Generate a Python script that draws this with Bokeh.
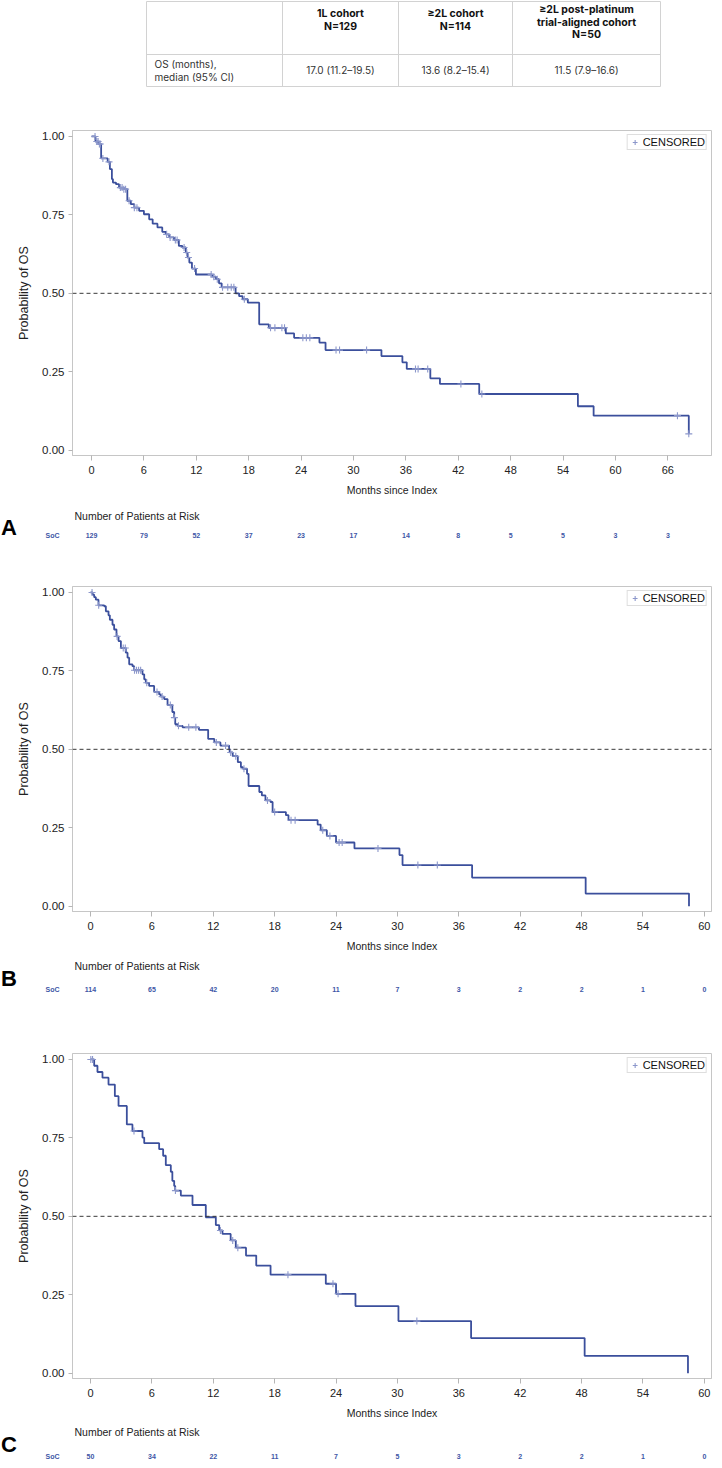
import numpy as np
from bokeh.plotting import figure
from bokeh.layouts import column
from bokeh.models import Range1d, Span, Legend, LegendItem, FixedTicker, NumeralTickFormatter
from bokeh.core.properties import value
from bokeh.embed import file_html
from bokeh.resources import INLINE

# ---------------- data ----------------
header_lines = [["1L cohort", "N=129"],
                ["≥2L cohort", "N=114"],
                ["≥2L post-platinum", "trial-aligned cohort", "N=50"]]
row_label = ["OS (months),", "median (95% CI)"]
os_median = ["17.0 (11.2–19.5)", "13.6 (8.2–15.4)", "11.5 (7.9–16.6)"]

# Panel A: 1L cohort
a_times = [0.45, 0.8, 1.1, 1.85, 2.1, 2.33, 2.45, 2.8, 3.15, 3.7, 4.1, 4.5, 4.9, 5.45, 6.0, 6.6,
           7.0, 7.55, 8.1, 8.5, 8.9, 9.45, 10.0, 10.4, 10.8, 11.0, 11.2, 11.5, 11.95, 13.85, 14.25,
           14.6, 14.9, 16.5, 16.9, 17.3, 17.9, 19.2, 20.3, 22.25, 23.2, 26.1, 26.8, 33.2, 35.6,
           36.1, 38.8, 39.9, 44.4, 55.7, 57.5, 68.4]
a_surv = [0.984, 0.976, 0.93, 0.919, 0.896, 0.864, 0.853, 0.848, 0.837, 0.832, 0.795, 0.784,
          0.773, 0.763, 0.752, 0.736, 0.722, 0.71, 0.696, 0.688, 0.678, 0.67, 0.651, 0.646, 0.63,
          0.614, 0.598, 0.579, 0.56, 0.553, 0.545, 0.532, 0.519, 0.50, 0.491, 0.481, 0.47, 0.401,
          0.39, 0.372, 0.358, 0.343, 0.319, 0.30, 0.28, 0.259, 0.229, 0.211, 0.179, 0.14, 0.11,
          0.052]
a_censor = [0.4, 0.6, 0.75, 0.9, 1.0, 1.3, 2.0, 3.3, 3.5, 3.7, 3.9, 4.3, 4.9, 5.2, 8.6, 9.0, 9.6,
            9.8, 10.6, 10.9, 11.1, 11.8, 13.7, 14.0, 14.4, 15.0, 15.6, 16.0, 16.3, 17.5, 20.5,
            21.0, 21.8, 22.1, 24.2, 24.6, 25.0, 28.0, 28.4, 31.5, 37.1, 37.4, 38.5, 42.3, 44.7,
            67.1, 68.4]
a_ticks = [0, 6, 12, 18, 24, 30, 36, 42, 48, 54, 60, 66]
a_risk = [129, 79, 52, 37, 23, 17, 14, 8, 5, 5, 3, 3]

# Panel B: >=2L cohort
b_times = [0.2, 0.36, 0.52, 0.78, 1.34, 1.5, 1.76, 1.89, 2.15, 2.31, 2.54, 2.74, 2.97, 3.45, 3.62,
           3.78, 4.1, 4.27, 5.08, 5.25, 5.41, 5.73, 6.22, 6.71, 6.87, 7.2, 7.53, 8.0, 8.18, 8.28,
           8.5, 9.0, 10.6, 11.5, 12.1, 12.7, 13.55, 13.6, 13.9, 14.4, 14.7, 14.9, 15.3, 15.45,
           16.5, 16.75, 17.1, 17.6, 17.8, 19.1, 19.35, 22.2, 22.5, 23.1, 24.0, 25.8, 30.2, 30.5,
           37.3, 48.4, 58.5]
b_surv = [0.993, 0.985, 0.977, 0.959, 0.956, 0.94, 0.927, 0.913, 0.897, 0.882, 0.86, 0.845, 0.823,
          0.808, 0.792, 0.771, 0.765, 0.752, 0.739, 0.723, 0.712, 0.702, 0.683, 0.675, 0.668,
          0.66, 0.641, 0.619, 0.601, 0.58, 0.575, 0.57, 0.562, 0.533, 0.522, 0.512, 0.501, 0.49,
          0.478, 0.459, 0.443, 0.438, 0.422, 0.383, 0.364, 0.353, 0.337, 0.332, 0.30, 0.29, 0.274,
          0.26, 0.242, 0.224, 0.203, 0.184, 0.163, 0.131, 0.091, 0.04, 0.0]
b_censor = [0.15, 0.8, 2.6, 3.2, 3.4, 4.3, 4.5, 4.7, 4.9, 5.5, 6.5, 7.0, 7.8, 8.2, 8.6, 9.6, 10.3,
            12.3, 13.2, 13.7, 14.2, 15.0, 17.3, 18.0, 19.6, 20.0, 22.7, 23.4, 24.3, 24.6, 28.1,
            32.0, 33.9]
b_ticks = [0, 6, 12, 18, 24, 30, 36, 42, 48, 54, 60]
b_risk = [114, 65, 42, 20, 11, 7, 3, 2, 2, 1, 0]

# Panel C: >=2L post-platinum trial-aligned cohort
c_times = [0.36, 0.68, 1.17, 1.76, 2.38, 2.74, 3.55, 4.1, 5.08, 5.25, 6.71, 7.1, 7.36, 7.85, 8.0,
           8.18, 8.28, 8.83, 9.97, 11.27, 12.25, 12.58, 12.9, 13.7, 14.2, 15.2, 16.2, 17.6, 23.0,
           24.0, 25.9, 30.1, 37.2, 48.3, 58.4]
c_surv = [0.98, 0.96, 0.942, 0.92, 0.883, 0.852, 0.793, 0.772, 0.751, 0.733, 0.714, 0.693, 0.663,
          0.642, 0.613, 0.597, 0.582, 0.566, 0.536, 0.497, 0.472, 0.455, 0.444, 0.423, 0.40,
          0.375, 0.343, 0.314, 0.285, 0.253, 0.214, 0.166, 0.112, 0.055, 0.0]
c_censor = [0.03, 0.2, 4.25, 8.3, 12.7, 13.9, 14.4, 19.3, 23.7, 24.2, 31.9]
c_ticks = [0, 6, 12, 18, 24, 30, 36, 42, 48, 54, 60]
c_risk = [50, 34, 22, 11, 7, 5, 3, 2, 2, 1, 0]

# ---------------- style ----------------
W = 714
LINE_BLUE = "#3b4f9c"
CENSOR_BLUE = "#8c97cb"
RISK_BLUE = "#3d56a6"
AXIS_GREY = "#c6c6c6"
SANS = "'Liberation Sans', Arial, sans-serif"
NARROW = "'Liberation Sans Narrow', 'Arial Narrow', 'Liberation Sans', sans-serif"
TABLE_FONT = "Inter, 'Noto Sans', sans-serif"

FRAME_L, FRAME_R = 80 - 8, 722 - 719   # borders inside the 714 px figure
FRAME_W = W - FRAME_L - FRAME_R


def no_align(p):
    try:
        p.frame_align = False
    except Exception:
        pass
    return p


def table_fig():
    h = 88
    p = figure(width=W, height=h, x_range=Range1d(0, W), y_range=Range1d(h, 0),
               output_backend="svg", toolbar_location=None, min_border=0,
               x_axis_type=None, y_axis_type=None)
    no_align(p)
    p.grid.visible = False
    p.outline_line_color = None
    cols = [146, 282, 398, 512, 660]
    top, mid, bot = 1, 54, 86
    p.segment(x0=[cols[0]] * 3, x1=[cols[-1]] * 3, y0=[top, mid, bot], y1=[top, mid, bot],
              line_color="#d2d2d2", line_width=1)
    p.segment(x0=cols, x1=cols, y0=[top] * len(cols), y1=[bot] * len(cols),
              line_color="#d2d2d2", line_width=1)
    for i, lines in enumerate(header_lines):
        cx = (cols[i + 1] + cols[i + 2]) / 2
        ys = [13, 26] if len(lines) == 2 else [9, 21.5, 34]
        p.text(x=[cx] * len(lines), y=ys, text=lines, text_align="center",
               text_baseline="middle", text_font=value(TABLE_FONT), text_font_size="10.5px",
               text_font_style="bold", text_color="#111111")
        p.text(x=[cx], y=[69.5], text=[os_median[i]], text_align="center",
               text_baseline="middle", text_font=value(TABLE_FONT), text_font_size="10px",
               text_color="#333333")
    p.text(x=[cols[0] + 8] * 2, y=[63, 76], text=row_label, text_align="left",
           text_baseline="middle", text_font=value(TABLE_FONT), text_font_size="10px",
           text_color="#333333")
    return p


def km_fig(times, surv, censor, ticks, xr):
    p = figure(width=W, height=415, x_range=Range1d(*xr), y_range=Range1d(-0.017, 1.019),
               output_backend="svg", toolbar_location=None,
               min_border_left=FRAME_L, min_border_right=FRAME_R,
               min_border_top=42, min_border_bottom=48)
    no_align(p)
    p.grid.visible = False
    p.outline_line_color = AXIS_GREY
    p.background_fill_color = "white"

    p.add_layout(Span(location=0.5, dimension="width", line_color="#3a3a3a",
                      line_dash="4 3", line_width=1))

    T = np.array([0.0] + list(times))
    S = np.array([1.0] + list(surv))
    p.step(T, S, mode="after", line_color=LINE_BLUE, line_width=1.8)

    c = np.array(censor)
    idx = np.searchsorted(T, c, side="right") - 1
    cr = p.scatter(c, S[idx], marker="cross", size=7, line_color=CENSOR_BLUE, line_width=1.1)

    leg = Legend(items=[LegendItem(label="CENSORED", renderers=[cr])], location="top_right",
                 margin=4, padding=1, spacing=0, glyph_width=12, glyph_height=12,
                 label_standoff=2, label_height=12, label_text_font=SANS,
                 label_text_font_size="11px", label_text_color="#111111",
                 border_line_color="#bdbdbd", border_line_width=1,
                 background_fill_color="white", background_fill_alpha=1.0)
    p.add_layout(leg)

    ya = p.yaxis[0]
    ya.ticker = FixedTicker(ticks=[0, 0.25, 0.5, 0.75, 1.0])
    ya.formatter = NumeralTickFormatter(format="0.00")
    ya.axis_label = "Probability of OS"
    ya.axis_label_text_font = SANS
    ya.axis_label_text_font_size = "12.5px"
    ya.axis_label_text_font_style = "normal"
    ya.axis_label_text_color = "#222222"
    ya.axis_label_standoff = 8
    ya.major_label_text_font = SANS
    ya.major_label_text_font_size = "11.5px"
    ya.major_label_text_color = "#222222"
    ya.major_label_standoff = 4
    ya.axis_line_color = AXIS_GREY
    ya.major_tick_line_color = "#b5b5b5"
    ya.major_tick_out = 4
    ya.major_tick_in = 0
    ya.minor_tick_line_color = None

    xa = p.xaxis[0]
    xa.ticker = FixedTicker(ticks=ticks)
    xa.axis_label = "Months since Index"
    xa.axis_label_text_font = NARROW
    xa.axis_label_text_font_size = "10.5px"
    xa.axis_label_text_font_style = "normal"
    xa.axis_label_text_color = "#222222"
    xa.axis_label_standoff = 7
    xa.major_label_text_font = NARROW
    xa.major_label_text_font_size = "11px"
    xa.major_label_text_color = "#222222"
    xa.major_label_standoff = 5
    xa.axis_line_color = AXIS_GREY
    xa.major_tick_line_color = "#b5b5b5"
    xa.major_tick_out = 5
    xa.major_tick_in = 0
    xa.minor_tick_line_color = None
    return p


def risk_fig(ticks, risk, xr, h, letter, y_title, y_letter, y_row):
    k0, k1 = xr
    scale = (k1 - k0) / FRAME_W
    r0 = k0 - FRAME_L * scale
    r1 = k1 + FRAME_R * scale
    p = figure(width=W, height=h, x_range=Range1d(r0, r1), y_range=Range1d(h, 0),
               output_backend="svg", toolbar_location=None, min_border=0,
               x_axis_type=None, y_axis_type=None)
    no_align(p)
    p.grid.visible = False
    p.outline_line_color = None

    def px(page_x):
        return r0 + (page_x - 8) * scale

    p.text(x=[px(82)], y=[y_title], text=["Number of Patients at Risk"], text_align="left",
           text_baseline="middle", text_font=value(NARROW), text_font_size="10.5px",
           text_color="#222222")
    p.text(x=[px(8.5)], y=[y_letter], text=[letter], text_align="left", text_baseline="middle",
           text_font=value(SANS), text_font_size="22px", text_font_style="bold",
           text_color="#000000")
    p.text(x=[px(60)], y=[y_row], text=["SoC"], text_align="center", text_baseline="middle",
           text_font=value(SANS), text_font_size="7px", text_font_style="bold",
           text_color=RISK_BLUE)
    p.text(x=ticks, y=[y_row] * len(ticks), text=[str(v) for v in risk], text_align="center",
           text_baseline="middle", text_font=value(SANS), text_font_size="7px",
           text_font_style="bold", text_color=RISK_BLUE)
    return p


xr_a = (-2.18, 71.0)
xr_bc = (-1.76, 60.7)

layout = column(
    table_fig(),
    km_fig(a_times, a_surv, a_censor, a_ticks, xr_a),
    risk_fig(a_ticks, a_risk, xr_a, 41, "A", 12, 24, 32),
    km_fig(b_times, b_surv, b_censor, b_ticks, xr_bc),
    risk_fig(b_ticks, b_risk, xr_bc, 52, "B", 6, 19, 30),
    km_fig(c_times, c_surv, c_censor, c_ticks, xr_bc),
    risk_fig(c_ticks, c_risk, xr_bc, 34, "C", 5, 18, 30),
    spacing=0,
)

open("out.html", "w").write(file_html(layout, INLINE))
